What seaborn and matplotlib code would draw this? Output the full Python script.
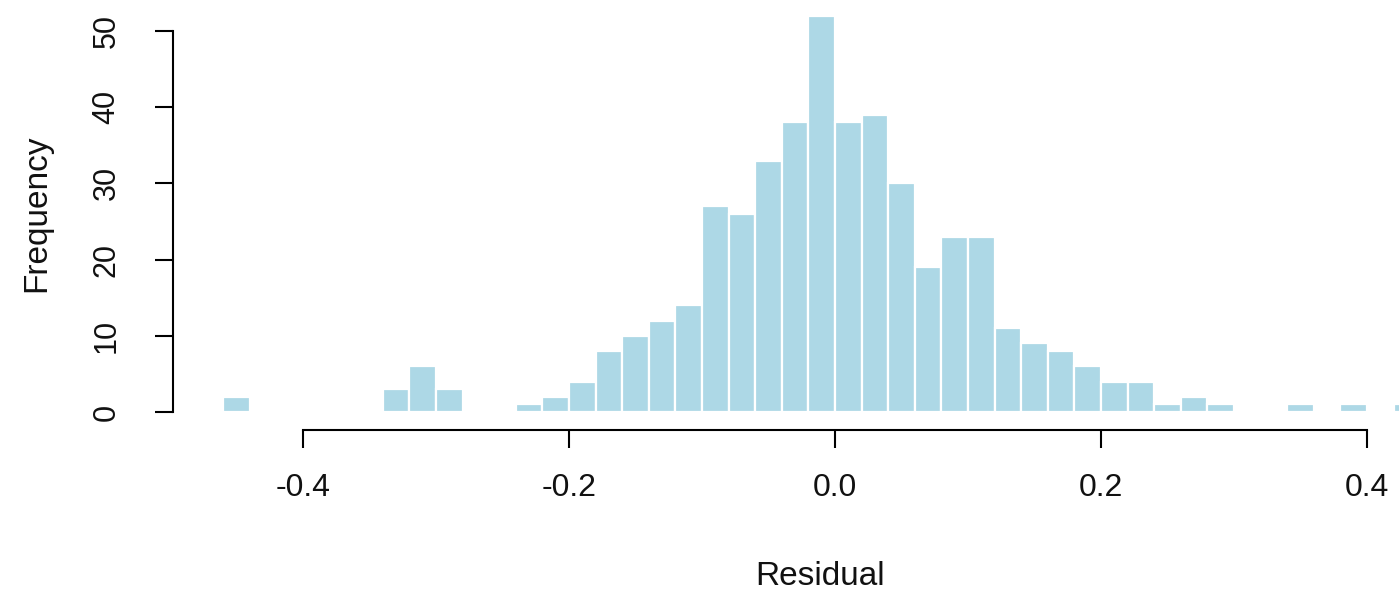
import numpy as np
import pandas as pd
import matplotlib
matplotlib.use("Agg")
import matplotlib.pyplot as plt
import seaborn as sns

# Histogram of model residuals: bins of width 0.02 starting at -0.46
bin_start = -0.46
bin_width = 0.02
counts = [2, 0, 0, 0, 0, 0, 3, 6, 3, 0, 0, 1, 2, 4, 8, 10, 12, 14, 27, 26,
          33, 38, 52, 38, 39, 30, 19, 23, 23, 11, 9, 8, 6, 4, 4, 1, 2, 1, 0, 0,
          1, 0, 1, 0, 1]
x_ticks = [-0.4, -0.2, 0.0, 0.2, 0.4]
x_tick_labels = ["-0.4", "-0.2", "0.0", "0.2", "0.4"]
y_ticks = [0, 10, 20, 30, 40, 50]

edges = [round(bin_start + bin_width * i, 4) for i in range(len(counts) + 1)]
df = pd.DataFrame({
    "residual": [(a + b) / 2 for a, b in zip(edges[:-1], edges[1:])],
    "count": counts,
})

sns.set_theme(style="white")
plt.rcParams["font.family"] = ["Liberation Sans", "DejaVu Sans"]

W, H, DPI = 1399, 593, 100
fig = plt.figure(figsize=(W / DPI, H / DPI), dpi=DPI)
left_px, bottom_px = 173, 430
ax = fig.add_axes([left_px / W, 1 - bottom_px / H, (W - left_px) / W, bottom_px / H])

sns.histplot(data=df, x="residual", weights="count", bins=edges, color="#ADD8E6",
             edgecolor="white", linewidth=1.6, alpha=1, ax=ax)

# data-to-pixel: 1330 px per unit in x (0.0 at 835), 7.62 px per count (0 at 412)
ax.set_xlim((left_px - 835) / 1330, (W - 835) / 1330)
ax.set_ylim(-(bottom_px - 412) / 7.62, 412 / 7.62)

for side in ("top", "right"):
    ax.spines[side].set_visible(False)
for side in ("left", "bottom"):
    ax.spines[side].set_color("black")
    ax.spines[side].set_linewidth(1.5)
ax.spines["left"].set_bounds(0, 50)
ax.spines["bottom"].set_bounds(-0.4, 0.4)

ax.set_xticks(x_ticks)
ax.set_xticklabels(x_tick_labels)
ax.set_yticks(y_ticks)
ax.set_yticklabels([str(v) for v in y_ticks], rotation=90, va="center")

ax.tick_params(axis="both", direction="out", length=13, width=1.5, color="black",
               left=True, bottom=True, labelcolor="#111111")
ax.tick_params(axis="x", labelsize=23, pad=18)
ax.tick_params(axis="y", labelsize=22, pad=24)

ax.set_xlabel("Residual", fontsize=24, color="#111111", va="baseline")
ax.xaxis.set_label_coords((820 - left_px) / (W - left_px), -(585 - bottom_px) / bottom_px)
ax.set_ylabel("Frequency", fontsize=24, color="#111111", va="center", ha="center")
ax.yaxis.set_label_coords((37 - left_px) / (W - left_px), 1 - 213 / bottom_px)

fig.savefig("out.png", dpi=DPI, facecolor="white")
